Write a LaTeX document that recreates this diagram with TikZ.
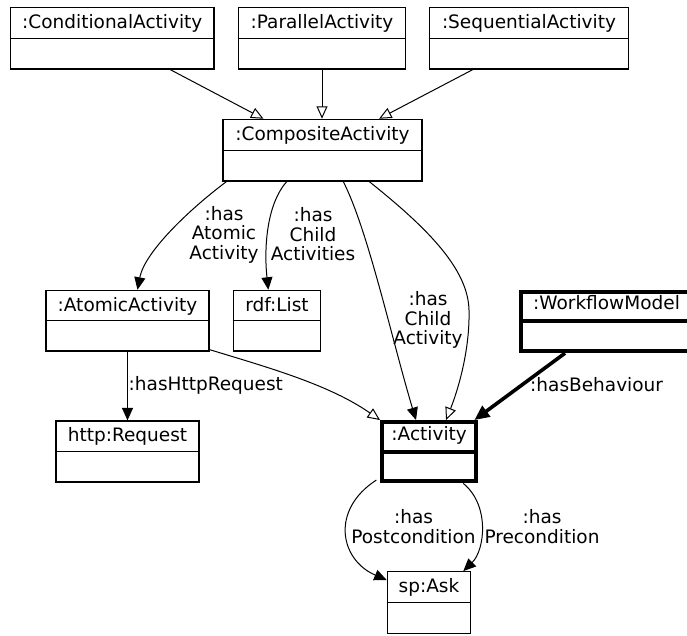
\documentclass[tikz,border=0pt]{standalone}
\usepackage{fontspec}
\setmainfont{DejaVu Sans}
\usetikzlibrary{arrows.meta}
\begin{document}
\begin{tikzpicture}[x=1pt,y=-1pt,
  font=\fontsize{18.5}{19.5}\selectfont,
  umlbox/.style={draw,line width=1.2pt,inner sep=0pt,minimum height=61.7pt},
  umlboxbold/.style={draw,line width=4pt,inner sep=0pt},
  boxtitle/.style={anchor=base,inner sep=0pt},
  edgelabel/.style={align=center,inner sep=0pt},
  assoc/.style={line width=1pt,-{Triangle[length=12.5pt,width=11pt]}},
  subclass/.style={line width=1pt,-{Triangle[open,length=12.5pt,width=11pt,fill=white]}},
  assocbold/.style={line width=3.6pt,-{Triangle[length=15pt,width=13pt]}}]
\useasboundingbox (0,0) rectangle (687,635);
\fill[white] (0,0) rectangle (687,635);
\clip (0,0) rectangle (687,635);

% class boxes
\node[umlbox,minimum width=203.3pt] (cond) at (112.3,38.2) {};
\node[umlbox,minimum width=167.4pt] (par) at (322,38.2) {};
\node[umlbox,minimum width=199.4pt] (seq) at (529,38.2) {};
\node[umlbox,minimum width=199pt] (comp) at (322.5,150.2) {};
\node[umlbox,minimum width=163pt,minimum height=60.7pt] (atom) at (127.5,320.7) {};
\node[umlbox,minimum width=87.4pt,minimum height=60.7pt] (list) at (277,320.7) {};
\node[umlbox,minimum width=143pt,minimum height=61pt] (http) at (127.5,451.5) {};
\node[umlboxbold,minimum width=94.3pt,minimum height=59.3pt] (act) at (429.2,451.7) {};
\node[umlboxbold,minimum width=171pt,minimum height=59.5pt] (wf) at (606.5,321.4) {};
\node[umlbox,minimum width=83.4pt,minimum height=61.6pt] (ask) at (429,602.5) {};

% compartment dividers
\foreach \bx in {cond,par,seq,comp,atom,list,http,ask}
  \draw[line width=1.2pt] (\bx.west) -- (\bx.east);
\foreach \bx in {act,wf}
  \draw[line width=4pt] (\bx.west) -- (\bx.east);

% box titles
\node[boxtitle] (condT) at ([yshift=-21.5pt]cond.north) {:ConditionalActivity};
\node[boxtitle] (parT) at ([yshift=-21.5pt]par.north) {:ParallelActivity};
\node[boxtitle] (seqT) at ([yshift=-21.5pt]seq.north) {:SequentialActivity};
\node[boxtitle] (compT) at ([yshift=-21.5pt]comp.north) {:CompositeActivity};
\node[boxtitle] (atomT) at ([yshift=-21.5pt]atom.north) {:AtomicActivity};
\node[boxtitle] (listT) at ([yshift=-21.5pt]list.north) {rdf:List};
\node[boxtitle] (httpT) at ([yshift=-21.5pt]http.north) {http:Request};
\node[boxtitle] (actT) at ([yshift=-20pt]act.north) {:Activity};
\node[boxtitle] (wfT) at ([yshift=-20pt]wf.north) {:WorkflowModel};
\node[boxtitle] (askT) at ([yshift=-21.5pt]ask.north) {sp:Ask};

% subclass links
\draw[subclass] ([xshift=58pt]cond.south) -- ([xshift=-59pt]comp.north);
\draw[subclass] (par.south) -- (par.south |- comp.north);
\draw[subclass] ([xshift=-56.3pt]seq.south) -- ([xshift=56.5pt]comp.north);
\draw[subclass] ([xshift=46.8pt]comp.south) .. controls (430,230) and (468,270) .. (469,310)
  .. controls (470,350) and (458,390) .. ([xshift=16.8pt]act.north);
\draw[subclass] ([yshift=2pt]atom.south east) .. controls (270,368) and (330,385) .. (act.north west);

% properties
\draw[assoc] ([xshift=4pt]comp.south west) .. controls (195,205) and (145,250) .. ([xshift=10pt]atom.north);
\draw[assoc] ([xshift=-35.8pt]comp.south) .. controls (266,205) and (264,250) .. ([xshift=-8.7pt]list.north);
\draw[assoc] ([xshift=20.8pt]comp.south) .. controls (368,230) and (392,340) .. ([xshift=-13.2pt]act.north);
\draw[assoc] (atom.south) -- (http.north);
\draw[assocbold] ([xshift=-41.5pt]wf.south) -- ([xshift=-4pt]act.north east);
\draw[assoc] ([xshift=-3.7pt,yshift=3.3pt]act.south west) .. controls (330,510) and (340,560) .. ([yshift=22.5pt]ask.west);
\draw[assoc] ([xshift=34pt]act.south) .. controls (490,505) and (485,550) .. ([xshift=34.3pt]ask.north);

% property labels
\node[edgelabel] (lAtomic) at (224,234.5) {:has\\Atomic\\Activity};
\node[edgelabel] (lLists) at (313,234.5) {:has\\Child\\Activities};
\node[edgelabel] (lChild) at (428,320) {:has\\Child\\Activity};
\node[anchor=west,inner sep=0pt] (lHttp) at (128.5,385) {:hasHttpRequest};
\node[anchor=west,inner sep=0pt] (lBeh) at (530,385) {:hasBehaviour};
\node[edgelabel] (lPost) at (413.5,526.7) {:has\\Postcondition};
\node[edgelabel] (lPre) at (542,526.7) {:has\\Precondition};
\end{tikzpicture}
\end{document}
